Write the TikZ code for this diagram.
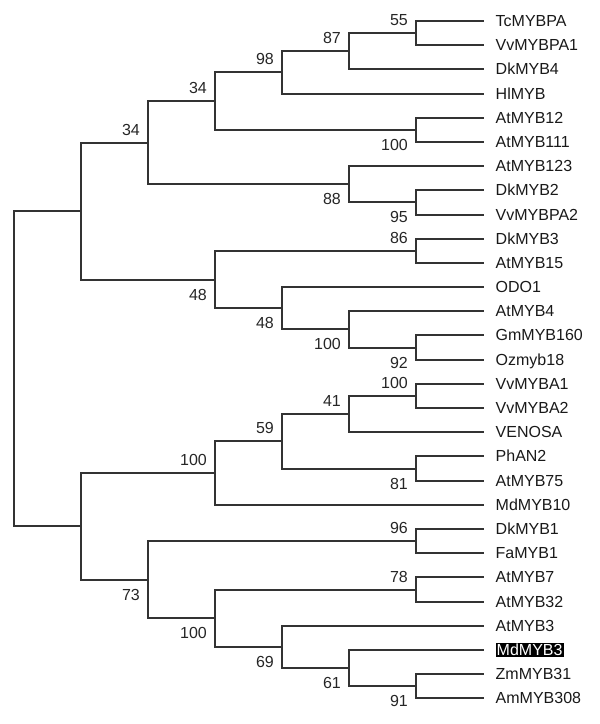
\documentclass[tikz,border=0pt]{standalone}
\usepackage{fontspec}
\setmainfont{Liberation Sans}
\begin{document}
\begin{tikzpicture}[x=1pt,y=-1pt,
  br/.style={draw=black!80, line width=1.5pt},
  leaf/.style={anchor=base west, inner sep=0pt, font=\fontsize{16}{17}\selectfont, text=black!90},
  leafhl/.style={leaf, fill=black, text=white, inner xsep=1pt, inner ysep=1.2pt},
  bs/.style={anchor=east, inner sep=0pt, font=\fontsize{16}{17}\selectfont, text=black!85},
]
\useasboundingbox (0,0) rectangle (600,724);
% leaves
\foreach \i/\n/\t/\s in {1/l1/TcMYBPA/leaf, 2/l2/VvMYBPA1/leaf, 3/l3/DkMYB4/leaf, 4/l4/HlMYB/leaf,
  5/l5/AtMYB12/leaf, 6/l6/AtMYB111/leaf, 7/l7/AtMYB123/leaf, 8/l8/DkMYB2/leaf, 9/l9/VvMYBPA2/leaf,
  10/l10/DkMYB3/leaf, 11/l11/AtMYB15/leaf, 12/l12/ODO1/leaf, 13/l13/AtMYB4/leaf, 14/l14/GmMYB160/leaf,
  15/l15/Ozmyb18/leaf, 16/l16/VvMYBA1/leaf, 17/l17/VvMYBA2/leaf, 18/l18/VENOSA/leaf, 19/l19/PhAN2/leaf,
  20/l20/AtMYB75/leaf, 21/l21/MdMYB10/leaf, 22/l22/DkMYB1/leaf, 23/l23/FaMYB1/leaf, 24/l24/AtMYB7/leaf,
  25/l25/AtMYB32/leaf, 26/l26/AtMYB3/leaf, 27/l27/MdMYB3/leafhl, 28/l28/ZmMYB31/leaf, 29/l29/AmMYB308/leaf} {
  \pgfmathsetmacro\yy{round(21+(\i-1)*24.19)}
  \coordinate (\n) at (484,\yy);
  \node[\s] (\n t) at (495.5,\yy+5.6) {\t};
}
% internal nodes
\coordinate (root) at (14,369);
\coordinate (n1) at (81,211);
\coordinate (n2) at (81,526);
\coordinate (n3) at (148,143);
\coordinate (n4) at (215,280);
\coordinate (n5) at (215,101);
\coordinate (n6) at (349,184);
\coordinate (n7) at (416,202);
\coordinate (n8) at (282,72);
\coordinate (n9) at (416,130);
\coordinate (n10) at (349,51);
\coordinate (n11) at (416,33);
\coordinate (n12) at (416,251);
\coordinate (n13) at (282,308);
\coordinate (n14) at (349,329);
\coordinate (n15) at (416,348);
\coordinate (n16) at (215,473);
\coordinate (n17) at (148,580);
\coordinate (n18) at (282,441);
\coordinate (n19) at (349,414);
\coordinate (n20) at (416,469);
\coordinate (n21) at (416,396);
\coordinate (n22) at (416,541);
\coordinate (n23) at (215,618);
\coordinate (n24) at (416,590);
\coordinate (n25) at (282,647);
\coordinate (n26) at (349,668);
\coordinate (n27) at (416,686);
% branches
\foreach \p/\c in {root/n1, root/n2, n1/n3, n1/n4, n3/n5, n3/n6, n5/n8, n5/n9, n8/n10, n8/l4,
  n10/n11, n10/l3, n11/l1, n11/l2, n9/l5, n9/l6, n6/l7, n6/n7, n7/l8, n7/l9,
  n4/n12, n4/n13, n12/l10, n12/l11, n13/l12, n13/n14, n14/l13, n14/n15, n15/l14, n15/l15,
  n2/n16, n2/n17, n16/n18, n16/l21, n18/n19, n18/n20, n19/n21, n19/l18, n21/l16, n21/l17,
  n20/l19, n20/l20, n17/n22, n17/n23, n22/l22, n22/l23, n23/n24, n23/n25, n24/l24, n24/l25,
  n25/l26, n25/n26, n26/l27, n26/n27, n27/l28, n27/l29} {
  \draw[br] (\p) |- (\c);
}
% bootstrap labels (above: -13, below: +15)
\foreach \c/\v/\d in {n3/34/-13, n4/48/15, n5/34/-13, n6/88/15, n7/95/15, n8/98/-13, n9/100/15,
  n10/87/-13, n11/55/-13, n12/86/-13, n13/48/15, n14/100/15, n15/92/15, n16/100/-13, n17/73/15,
  n18/59/-13, n19/41/-13, n20/81/15, n21/100/-13, n22/96/-13, n23/100/15, n24/78/-13,
  n25/69/15, n26/61/15, n27/91/15} {
  \path (\c) ++(-8,\d) node[bs] (b\c) {\v};
}
\end{tikzpicture}
\end{document}
